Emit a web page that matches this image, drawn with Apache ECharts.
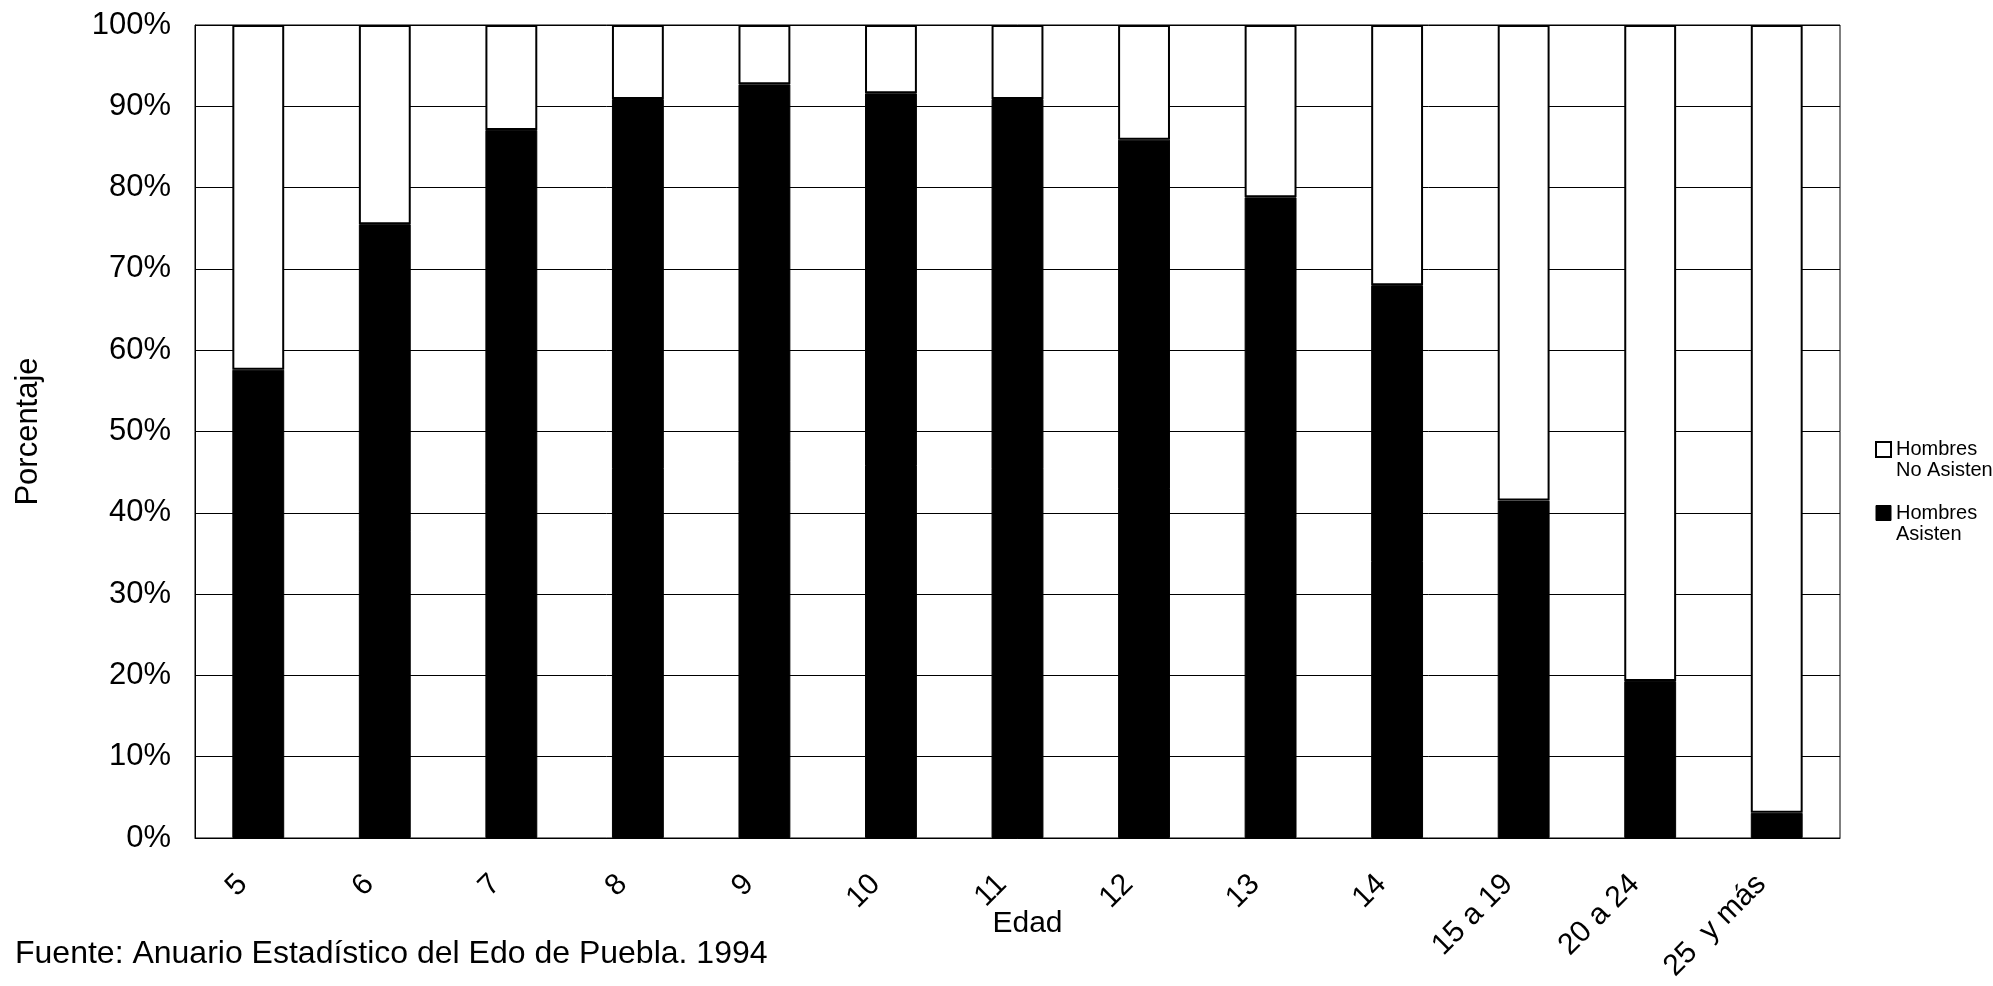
<!DOCTYPE html>
<html>
<head>
<meta charset="utf-8">
<title>Hombres - asistencia escolar por edad</title>
<script src="https://cdn.jsdelivr.net/npm/echarts@6/dist/echarts.min.js"></script>
<style>
  html, body { margin: 0; padding: 0; background: #fff; }
  #chart { width: 1993px; height: 986px; }
</style>
</head>
<body>
<div id="chart"></div>
<script>
// edades (eje x)
var edades = ['5', '6', '7', '8', '9', '10', '11', '12', '13', '14', '15 a 19', '20 a 24', '25  y más']
// porcentaje que asiste (negro)
var asisten = [57.6, 75.5, 87.1, 90.9, 92.7, 91.6, 90.9, 85.9, 78.8, 68.0, 41.5, 19.3, 3.1]
// porcentaje que no asiste (blanco)
var noAsisten = [42.4, 24.5, 12.9, 9.1, 7.3, 8.4, 9.1, 14.1, 21.2, 32.0, 58.5, 80.7, 96.9]

var FONT = 'Liberation Sans, Arial, sans-serif'

// leyenda: el cuadro queda alineado con la primera línea
function legendText(name) {
  var lines = name.split('\n')
  return '{e| }\n{t|' + lines[0] + '}\n{t|' + lines[1] + '}'
}

var myChart = echarts.init(document.getElementById('chart'))
myChart.setOption({
  animation: false,
  textStyle: { fontFamily: FONT, color: '#000' },
  grid: {
    left: 195,
    right: 153,
    top: 25,
    bottom: 148,
    outerBoundsMode: 'none',
    containLabel: false,
    show: true,
    borderColor: '#000',
    borderWidth: 1,
  },
  legend: {
    orient: 'vertical',
    left: 1870,
    top: 413,
    itemWidth: 15,
    itemHeight: 15,
    itemGap: 1,
    icon: 'rect',
    selectedMode: false,
    formatter: legendText,
    textStyle: {
      fontFamily: FONT,
      fontSize: 20,
      color: '#000',
      rich: {
        e: { fontSize: 20, lineHeight: 21, height: 21 },
        t: { fontFamily: FONT, fontSize: 20, lineHeight: 21, color: '#000' },
      },
    },
    data: [
      { name: 'Hombres\nNo Asisten', itemStyle: { color: '#fff', borderColor: '#000', borderWidth: 2 } },
      { name: 'Hombres\nAsisten', itemStyle: { color: '#000', borderColor: '#000', borderWidth: 1 } },
    ],
  },
  xAxis: {
    type: 'category',
    data: edades,
    name: 'Edad',
    nameLocation: 'middle',
    nameGap: 71,
    nameMoveOverlap: false,
    nameTextStyle: { fontSize: 30, color: '#000', padding: [0, 0, 0, 20] },
    axisLine: { lineStyle: { color: '#000', width: 1 } },
    axisTick: { show: false },
    axisLabel: {
      rotate: 45,
      margin: 26,
      padding: [0, 22, 0, 0],
      fontSize: 30,
      color: '#000',
      interval: 0,
      hideOverlap: false,
    },
  },
  yAxis: {
    type: 'value',
    min: 0,
    max: 100,
    interval: 10,
    name: 'Porcentaje',
    nameLocation: 'middle',
    nameGap: 151,
    nameRotate: 90,
    nameMoveOverlap: false,
    nameTextStyle: { fontSize: 31, color: '#000' },
    axisLine: { show: true, lineStyle: { color: '#000', width: 1 } },
    axisTick: { show: false },
    axisLabel: {
      formatter: '{value}%',
      fontSize: 31,
      color: '#000',
      margin: 24,
    },
    splitLine: { show: true, lineStyle: { color: '#000', width: 1 } },
  },
  series: [
    {
      name: 'Hombres\nAsisten',
      type: 'bar',
      stack: 'total',
      barWidth: '41%',
      data: asisten,
      itemStyle: { color: '#000', borderColor: '#000', borderWidth: 1 },
    },
    {
      name: 'Hombres\nNo Asisten',
      type: 'bar',
      stack: 'total',
      barWidth: '41%',
      data: noAsisten,
      itemStyle: { color: '#fff', borderColor: '#000', borderWidth: 2 },
    },
  ],
  graphic: [
    {
      type: 'text',
      left: 15,
      top: 938,
      style: {
        text: 'Fuente: Anuario Estadístico del Edo de Puebla. 1994',
        fontFamily: FONT,
        fontSize: 32,
        fill: '#000',
      },
    },
  ],
})
</script>
</body>
</html>
